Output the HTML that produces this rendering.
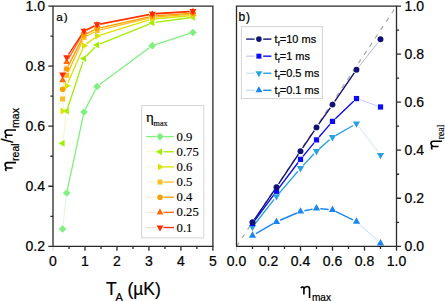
<!DOCTYPE html><html><head><meta charset="utf-8"><title>figure</title><style>
html,body{margin:0;padding:0;background:#fff;overflow:hidden;}svg{display:block;}
text{font-family:'Liberation Sans', sans-serif;fill:#000;stroke:#000;stroke-width:0.22px;} .sf{font-family:'Liberation Serif', serif;stroke-width:0.15px;}
</style></head><body>
<svg width="445" height="301" viewBox="0 0 445 301">
<rect width="445" height="301" fill="#fff"/>
<path d="M62.96 225.82L66.34 196.18" fill="none" stroke="#dcfadc" stroke-width="1.0"/>
<path d="M67.37 189.87L83.33 115.13M85.46 109.15L95.64 89.35M99.67 84.60L149.73 47.60M155.34 44.71L189.86 33.49" fill="none" stroke="#7ff07f" stroke-width="1.3"/>
<path d="M63.00 140.13L66.30 114.17" fill="none" stroke="#eef9c8" stroke-width="1.0"/>
<path d="M67.70 107.96L83.00 61.64M86.22 56.30L94.88 47.30M100.07 43.81L149.33 24.09M155.47 22.46L189.73 17.74" fill="none" stroke="#a2ee00" stroke-width="1.3"/>
<path d="M63.11 107.84L66.19 88.86" fill="none" stroke="#f5f6c8" stroke-width="1.0"/>
<path d="M67.97 82.76L82.73 48.74M86.56 43.88L94.54 37.92M100.16 35.06L149.24 19.94M155.49 18.73L189.71 15.77" fill="none" stroke="#d8e400" stroke-width="1.3"/>
<path d="M63.15 95.85L66.15 78.45" fill="none" stroke="#fff0d0" stroke-width="1.0"/>
<path d="M68.03 72.39L82.67 40.41M86.82 35.99L94.28 32.01M100.21 29.76L149.19 18.04M155.49 17.06L189.71 14.44" fill="none" stroke="#ffbd22" stroke-width="1.3"/>
<path d="M63.23 86.16L66.07 72.14" fill="none" stroke="#fde8c4" stroke-width="1.0"/>
<path d="M68.15 66.15L82.55 37.85M86.87 33.58L94.23 29.92M100.22 27.80L149.18 16.90M155.49 15.96L189.71 13.44" fill="none" stroke="#f8a000" stroke-width="1.3"/>
<path d="M63.30 77.08L66.00 65.12" fill="none" stroke="#ffe0d0" stroke-width="1.0"/>
<path d="M68.28 59.22L82.42 34.38M86.86 30.16L94.24 26.44M100.24 24.39L149.16 14.81M155.49 14.00L189.71 11.80" fill="none" stroke="#ff6a10" stroke-width="1.3"/>
<path d="M63.33 71.49L65.97 60.31" fill="none" stroke="#ffd8cc" stroke-width="1.0"/>
<path d="M68.46 54.53L82.24 33.57M86.87 29.48L94.23 25.82M100.24 23.79L149.16 14.31M155.49 13.50L189.71 11.30" fill="none" stroke="#ff2a00" stroke-width="1.3"/>
<path d="M62.60 225.15L66.45 229.00L62.60 232.85L58.75 229.00Z" fill="#7ff07f"/>
<path d="M66.70 189.15L70.55 193.00L66.70 196.85L62.85 193.00Z" fill="#7ff07f"/>
<path d="M84.00 108.15L87.85 112.00L84.00 115.85L80.15 112.00Z" fill="#7ff07f"/>
<path d="M97.10 82.65L100.95 86.50L97.10 90.35L93.25 86.50Z" fill="#7ff07f"/>
<path d="M152.30 41.85L156.15 45.70L152.30 49.55L148.45 45.70Z" fill="#7ff07f"/>
<path d="M192.90 28.65L196.75 32.50L192.90 36.35L189.05 32.50Z" fill="#7ff07f"/>
<path d="M58.53 143.30L64.63 139.85L64.63 146.75Z" fill="#a2ee00"/>
<path d="M62.63 111.00L68.73 107.55L68.73 114.45Z" fill="#a2ee00"/>
<path d="M79.93 58.60L86.03 55.15L86.03 62.05Z" fill="#a2ee00"/>
<path d="M93.03 45.00L99.13 41.55L99.13 48.45Z" fill="#a2ee00"/>
<path d="M148.23 22.90L154.33 19.45L154.33 26.35Z" fill="#a2ee00"/>
<path d="M188.83 17.30L194.93 13.85L194.93 20.75Z" fill="#a2ee00"/>
<path d="M66.67 111.00L60.57 107.55L60.57 114.45Z" fill="#d8e400"/>
<path d="M70.77 85.70L64.67 82.25L64.67 89.15Z" fill="#d8e400"/>
<path d="M88.07 45.80L81.97 42.35L81.97 49.25Z" fill="#d8e400"/>
<path d="M101.17 36.00L95.07 32.55L95.07 39.45Z" fill="#d8e400"/>
<path d="M156.37 19.00L150.27 15.55L150.27 22.45Z" fill="#d8e400"/>
<path d="M196.97 15.50L190.87 12.05L190.87 18.95Z" fill="#d8e400"/>
<rect x="60.10" y="96.50" width="5.00" height="5.00" fill="#ffbd22"/>
<rect x="64.20" y="72.80" width="5.00" height="5.00" fill="#ffbd22"/>
<rect x="81.50" y="35.00" width="5.00" height="5.00" fill="#ffbd22"/>
<rect x="94.60" y="28.00" width="5.00" height="5.00" fill="#ffbd22"/>
<rect x="149.80" y="14.80" width="5.00" height="5.00" fill="#ffbd22"/>
<rect x="190.40" y="11.70" width="5.00" height="5.00" fill="#ffbd22"/>
<circle cx="62.60" cy="89.30" r="2.80" fill="#f8a000"/>
<circle cx="66.70" cy="69.00" r="2.80" fill="#f8a000"/>
<circle cx="84.00" cy="35.00" r="2.80" fill="#f8a000"/>
<circle cx="97.10" cy="28.50" r="2.80" fill="#f8a000"/>
<circle cx="152.30" cy="16.20" r="2.80" fill="#f8a000"/>
<circle cx="192.90" cy="13.20" r="2.80" fill="#f8a000"/>
<path d="M62.60 76.13L66.05 82.23L59.15 82.23Z" fill="#ff6a10"/>
<path d="M66.70 57.93L70.15 64.03L63.25 64.03Z" fill="#ff6a10"/>
<path d="M84.00 27.53L87.45 33.63L80.55 33.63Z" fill="#ff6a10"/>
<path d="M97.10 20.93L100.55 27.03L93.65 27.03Z" fill="#ff6a10"/>
<path d="M152.30 10.13L155.75 16.23L148.85 16.23Z" fill="#ff6a10"/>
<path d="M192.90 7.53L196.35 13.63L189.45 13.63Z" fill="#ff6a10"/>
<path d="M62.60 78.67L66.05 72.57L59.15 72.57Z" fill="#ff2a00"/>
<path d="M66.70 61.27L70.15 55.17L63.25 55.17Z" fill="#ff2a00"/>
<path d="M84.00 34.97L87.45 28.87L80.55 28.87Z" fill="#ff2a00"/>
<path d="M97.10 28.47L100.55 22.37L93.65 22.37Z" fill="#ff2a00"/>
<path d="M152.30 17.77L155.75 11.67L148.85 11.67Z" fill="#ff2a00"/>
<path d="M192.90 15.17L196.35 9.07L189.45 9.07Z" fill="#ff2a00"/>
<path d="M53.0 6.1H212.9V246.3H53.0Z" fill="none" stroke="#2a2a2a" stroke-width="1.3"/>
<path d="M48.30 246.30H53.0M48.30 186.25H53.0M48.30 126.20H53.0M48.30 66.15H53.0M48.30 6.10H53.0M50.40 216.28H53.0M50.40 156.23H53.0M50.40 96.18H53.0M50.40 36.12H53.0M84.98 246.3V250.80M116.96 246.3V250.80M148.94 246.3V250.80M180.92 246.3V250.80M212.90 246.3V250.80M68.99 246.3V248.90M100.97 246.3V248.90M132.95 246.3V248.90M164.93 246.3V248.90M196.91 246.3V248.90" stroke="#2a2a2a" stroke-width="1.3" fill="none"/>
<path d="M53.0 246.9V250.8" stroke="#d8d8d8" stroke-width="1.2"/>
<text x="45.0" y="251.20" font-size="14" text-anchor="end">0.2</text>
<text x="45.0" y="191.15" font-size="14" text-anchor="end">0.4</text>
<text x="45.0" y="131.10" font-size="14" text-anchor="end">0.6</text>
<text x="45.0" y="71.05" font-size="14" text-anchor="end">0.8</text>
<text x="45.0" y="11.00" font-size="14" text-anchor="end">1.0</text>
<text x="53.00" y="265.8" font-size="14" text-anchor="middle">0</text>
<text x="84.98" y="265.8" font-size="14" text-anchor="middle">1</text>
<text x="116.96" y="265.8" font-size="14" text-anchor="middle">2</text>
<text x="148.94" y="265.8" font-size="14" text-anchor="middle">3</text>
<text x="180.92" y="265.8" font-size="14" text-anchor="middle">4</text>
<text x="212.90" y="265.8" font-size="14" text-anchor="middle">5</text>
<text x="56.3" y="20.8" font-size="11.8" letter-spacing="0.8">a)</text>
<text x="105.9" y="295.0" font-size="17.5">T</text>
<text x="115.6" y="301.4" font-size="11">A</text>
<text x="127.4" y="295.0" font-size="17.5">(µK)</text>
<path transform="translate(12.6 170.7) rotate(-90) scale(0.95)" d="M0 -6.3C0.5 -7.4 1.9 -7.9 2.8 -6.9L2.9 -6.2L2.9 0M2.9 -5.6C3.6 -7.3 4.8 -7.95 6.0 -7.95C7.6 -7.95 8.55 -7.0 8.55 -5.4L8.55 3.6" fill="none" stroke="#000" stroke-width="1.684"/>
<text transform="translate(18.5 160.9) rotate(-90)" font-size="10.5">real</text>
<text transform="translate(12.6 143.0) rotate(-90)" font-size="16.5">/</text>
<path transform="translate(12.6 138.05) rotate(-90) scale(0.95)" d="M0 -6.3C0.5 -7.4 1.9 -7.9 2.8 -6.9L2.9 -6.2L2.9 0M2.9 -5.6C3.6 -7.3 4.8 -7.95 6.0 -7.95C7.6 -7.95 8.55 -7.0 8.55 -5.4L8.55 3.6" fill="none" stroke="#000" stroke-width="1.684"/>
<text transform="translate(18.8 127.9) rotate(-90)" font-size="10.5">max</text>
<rect x="141.6" y="105.6" width="62.2" height="132.3" fill="#fff" stroke="#d4d4d4" stroke-width="1"/>
<text class="sf" x="145.9" y="122.2" font-size="15">η</text>
<text class="sf" x="153.6" y="125.8" font-size="8.2">max</text>
<path d="M146 136.60H156" stroke="#7ff07f" stroke-width="1.2"/>
<path d="M163.4 136.60H174" stroke="#7ff07f" stroke-width="1.3"/>
<path d="M160.00 132.75L163.85 136.60L160.00 140.45L156.15 136.60Z" fill="#7ff07f"/>
<text class="sf" x="176.6" y="140.70" font-size="12.7">0.9</text>
<path d="M146 151.75H156" stroke="#eef9c8" stroke-width="1.0"/>
<path d="M163.4 151.75H174" stroke="#a2ee00" stroke-width="1.3"/>
<path d="M155.93 151.75L162.03 148.30L162.03 155.20Z" fill="#a2ee00"/>
<text class="sf" x="176.6" y="155.85" font-size="12.7">0.75</text>
<path d="M146 166.90H156" stroke="#f5f6c8" stroke-width="1.0"/>
<path d="M163.4 166.90H174" stroke="#d8e400" stroke-width="1.3"/>
<path d="M164.07 166.90L157.97 163.45L157.97 170.35Z" fill="#d8e400"/>
<text class="sf" x="176.6" y="171.00" font-size="12.7">0.6</text>
<path d="M146 182.05H156" stroke="#fff0d0" stroke-width="1.0"/>
<path d="M163.4 182.05H174" stroke="#ffbd22" stroke-width="1.3"/>
<rect x="157.50" y="179.55" width="5.00" height="5.00" fill="#ffbd22"/>
<text class="sf" x="176.6" y="186.15" font-size="12.7">0.5</text>
<path d="M146 197.20H156" stroke="#fde8c4" stroke-width="1.0"/>
<path d="M163.4 197.20H174" stroke="#f8a000" stroke-width="1.3"/>
<circle cx="160.00" cy="197.20" r="2.80" fill="#f8a000"/>
<text class="sf" x="176.6" y="201.30" font-size="12.7">0.4</text>
<path d="M146 212.35H156" stroke="#ffe0d0" stroke-width="1.0"/>
<path d="M163.4 212.35H174" stroke="#ff6a10" stroke-width="1.3"/>
<path d="M160.00 208.28L163.45 214.38L156.55 214.38Z" fill="#ff6a10"/>
<text class="sf" x="176.6" y="216.45" font-size="12.7">0.25</text>
<path d="M146 227.50H156" stroke="#ffd8cc" stroke-width="1.0"/>
<path d="M163.4 227.50H174" stroke="#ff2a00" stroke-width="1.3"/>
<path d="M160.00 231.57L163.45 225.47L156.55 225.47Z" fill="#ff2a00"/>
<text class="sf" x="176.6" y="231.60" font-size="12.7">0.1</text>
<path d="M236.50 246.30L396.50 6.10" stroke="#a8a8a8" stroke-width="1.2" stroke-dasharray="4.5 5.5" fill="none"/>
<path d="M254.70 219.06L274.30 190.43M278.66 183.96L298.34 154.43M302.68 147.95L314.32 130.64M318.74 124.21L330.26 107.78M334.71 101.37L354.29 72.96" fill="none" stroke="#101075" stroke-width="1.4"/>
<path d="M358.91 66.69L378.09 42.31" fill="none" stroke="#b8b8dc" stroke-width="1.0"/>
<path d="M254.83 220.35L274.17 194.42M278.84 188.18L298.16 162.47M302.98 156.34L314.02 142.90M319.05 136.94L329.95 124.35M335.33 118.71L353.67 101.26" fill="none" stroke="#0c0cf4" stroke-width="1.4"/>
<path d="M360.18 99.87L376.82 105.69" fill="none" stroke="#c8c8fa" stroke-width="1.0"/>
<path d="M254.90 224.01L274.10 199.41M279.03 193.37L297.97 171.20M303.17 165.39L313.83 154.03M319.44 148.62L329.56 139.81M335.89 135.32L353.11 125.49" fill="none" stroke="#2aa2e2" stroke-width="1.4"/>
<path d="M358.87 126.66L378.13 151.92" fill="none" stroke="#c6e6f6" stroke-width="1.0"/>
<path d="M255.89 233.56L273.11 223.73M280.08 220.26L296.92 213.01M304.33 210.72L312.67 209.10M320.38 208.70L328.62 209.44M336.00 211.51L353.00 219.84" fill="none" stroke="#1a86f0" stroke-width="1.4"/>
<path d="M359.39 224.18L377.61 240.68" fill="none" stroke="#c2def8" stroke-width="1.0"/>
<path d="M252.50 231.22L256.12 237.63L248.88 237.63Z" fill="#1a86f0"/>
<path d="M276.50 217.53L280.12 223.93L272.88 223.93Z" fill="#1a86f0"/>
<path d="M300.50 207.20L304.12 213.61L296.88 213.61Z" fill="#1a86f0"/>
<path d="M316.50 204.08L320.12 210.48L312.88 210.48Z" fill="#1a86f0"/>
<path d="M332.50 205.52L336.12 211.92L328.88 211.92Z" fill="#1a86f0"/>
<path d="M356.50 217.29L360.12 223.69L352.88 223.69Z" fill="#1a86f0"/>
<path d="M380.50 239.03L384.12 245.43L376.88 245.43Z" fill="#1a86f0"/>
<path d="M252.50 231.35L256.12 224.95L248.88 224.95Z" fill="#2aa2e2"/>
<path d="M276.50 200.61L280.12 194.20L272.88 194.20Z" fill="#2aa2e2"/>
<path d="M300.50 172.51L304.12 166.10L296.88 166.10Z" fill="#2aa2e2"/>
<path d="M316.50 155.45L320.12 149.05L312.88 149.05Z" fill="#2aa2e2"/>
<path d="M332.50 141.52L336.12 135.11L328.88 135.11Z" fill="#2aa2e2"/>
<path d="M356.50 127.83L360.12 121.42L352.88 121.42Z" fill="#2aa2e2"/>
<path d="M380.50 159.29L384.12 152.89L376.88 152.89Z" fill="#2aa2e2"/>
<rect x="249.88" y="220.86" width="5.25" height="5.25" fill="#0c0cf4"/>
<rect x="273.88" y="188.67" width="5.25" height="5.25" fill="#0c0cf4"/>
<rect x="297.88" y="156.72" width="5.25" height="5.25" fill="#0c0cf4"/>
<rect x="313.88" y="137.27" width="5.25" height="5.25" fill="#0c0cf4"/>
<rect x="329.88" y="118.77" width="5.25" height="5.25" fill="#0c0cf4"/>
<rect x="353.88" y="95.95" width="5.25" height="5.25" fill="#0c0cf4"/>
<rect x="377.88" y="104.36" width="5.25" height="5.25" fill="#0c0cf4"/>
<circle cx="252.50" cy="222.28" r="2.94" fill="#101075"/>
<circle cx="276.50" cy="187.21" r="2.94" fill="#101075"/>
<circle cx="300.50" cy="151.18" r="2.94" fill="#101075"/>
<circle cx="316.50" cy="127.40" r="2.94" fill="#101075"/>
<circle cx="332.50" cy="104.58" r="2.94" fill="#101075"/>
<circle cx="356.50" cy="69.75" r="2.94" fill="#101075"/>
<circle cx="380.50" cy="39.25" r="2.94" fill="#101075"/>
<path d="M236.5 6.1H396.5V246.3H236.5Z" fill="none" stroke="#2a2a2a" stroke-width="1.3"/>
<path d="M396.5 246.30H401.00M396.5 198.26H401.00M268.50 246.3V250.80M396.5 150.22H401.00M300.50 246.3V250.80M396.5 102.18H401.00M332.50 246.3V250.80M396.5 54.14H401.00M364.50 246.3V250.80M396.5 6.10H401.00M396.50 246.3V250.80M396.5 222.28H399.10M252.50 246.3V248.90M396.5 174.24H399.10M284.50 246.3V248.90M396.5 126.20H399.10M316.50 246.3V248.90M396.5 78.16H399.10M348.50 246.3V248.90M396.5 30.12H399.10M380.50 246.3V248.90" stroke="#2a2a2a" stroke-width="1.3" fill="none"/>
<path d="M236.5 246.9V250.8" stroke="#d8d8d8" stroke-width="1.2"/>
<text x="236.50" y="265.8" font-size="14" text-anchor="middle">0.0</text>
<text x="404.6" y="250.70" font-size="14">0.0</text>
<text x="268.50" y="265.8" font-size="14" text-anchor="middle">0.2</text>
<text x="404.6" y="202.66" font-size="14">0.2</text>
<text x="300.50" y="265.8" font-size="14" text-anchor="middle">0.4</text>
<text x="404.6" y="154.62" font-size="14">0.4</text>
<text x="332.50" y="265.8" font-size="14" text-anchor="middle">0.6</text>
<text x="404.6" y="106.58" font-size="14">0.6</text>
<text x="364.50" y="265.8" font-size="14" text-anchor="middle">0.8</text>
<text x="404.6" y="58.54" font-size="14">0.8</text>
<text x="396.50" y="265.8" font-size="14" text-anchor="middle">1.0</text>
<text x="404.6" y="10.50" font-size="14">1.0</text>
<text x="238.5" y="20.9" font-size="12" letter-spacing="0.9">b)</text>
<path transform="translate(301.0 294.5)" d="M0 -6.3C0.5 -7.4 1.9 -7.9 2.8 -6.9L2.9 -6.2L2.9 0M2.9 -5.6C3.6 -7.3 4.8 -7.95 6.0 -7.95C7.6 -7.95 8.55 -7.0 8.55 -5.4L8.55 3.6" fill="none" stroke="#000" stroke-width="1.600"/>
<text x="311.9" y="300.9" font-size="10.1">max</text>
<path transform="translate(438.5 149.3) rotate(-90) scale(0.95)" d="M0 -6.3C0.5 -7.4 1.9 -7.9 2.8 -6.9L2.9 -6.2L2.9 0M2.9 -5.6C3.6 -7.3 4.8 -7.95 6.0 -7.95C7.6 -7.95 8.55 -7.0 8.55 -5.4L8.55 3.6" fill="none" stroke="#000" stroke-width="1.684"/>
<text class="sf" transform="translate(444.4 139.6) rotate(-90)" font-size="10.2">real</text>
<rect x="241.4" y="26.6" width="81" height="71.9" fill="#fff" stroke="#d4d4d4" stroke-width="1"/>
<path d="M246.1 39.10H254.6" stroke="#101075" stroke-width="1.3"/>
<path d="M263.2 39.10H271.4" stroke="#101075" stroke-width="1.4"/>
<circle cx="258.90" cy="39.10" r="2.80" fill="#101075"/>
<text x="274.6" y="43.20" font-size="11">t<tspan font-size="7.5" dy="2.6">f</tspan><tspan dy="-2.6">=10 ms</tspan></text>
<path d="M246.1 56.17H254.6" stroke="#c8c8fa" stroke-width="1.3"/>
<path d="M263.2 56.17H271.4" stroke="#0c0cf4" stroke-width="1.4"/>
<rect x="256.40" y="53.67" width="5.00" height="5.00" fill="#0c0cf4"/>
<text x="274.6" y="60.27" font-size="11">t<tspan font-size="7.5" dy="2.6">f</tspan><tspan dy="-2.6">=1 ms</tspan></text>
<path d="M246.1 73.24H254.6" stroke="#c6e6f6" stroke-width="1.3"/>
<path d="M263.2 73.24H271.4" stroke="#2aa2e2" stroke-width="1.4"/>
<path d="M258.90 77.31L262.35 71.21L255.45 71.21Z" fill="#2aa2e2"/>
<text x="274.6" y="77.34" font-size="11">t<tspan font-size="7.5" dy="2.6">f</tspan><tspan dy="-2.6">=0.5 ms</tspan></text>
<path d="M246.1 90.31H254.6" stroke="#c2def8" stroke-width="1.3"/>
<path d="M263.2 90.31H271.4" stroke="#1a86f0" stroke-width="1.4"/>
<path d="M258.90 86.24L262.35 92.34L255.45 92.34Z" fill="#1a86f0"/>
<text x="274.6" y="94.41" font-size="11">t<tspan font-size="7.5" dy="2.6">f</tspan><tspan dy="-2.6">=0.1 ms</tspan></text>
</svg></body></html>
